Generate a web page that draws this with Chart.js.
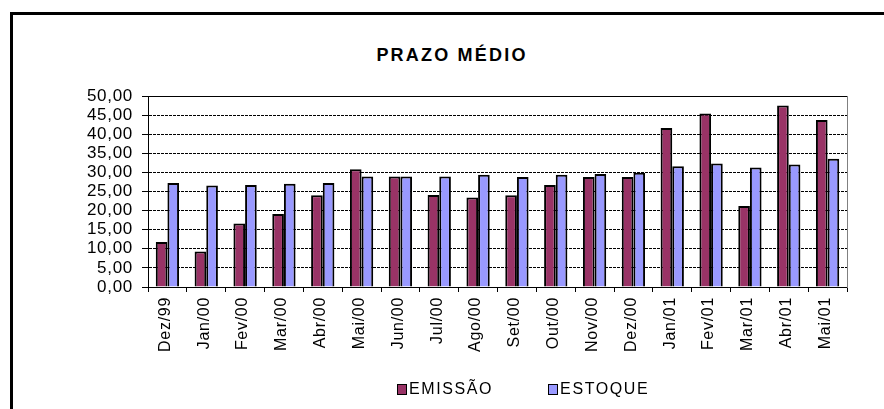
<!DOCTYPE html>
<html>
<head>
<meta charset="utf-8">
<script src="https://cdn.jsdelivr.net/npm/chart.js@4/dist/chart.umd.min.js"></script>
<style>
  html, body { margin: 0; padding: 0; background: #fff; }
  #wrap { position: relative; width: 884px; height: 409px; overflow: hidden; font-family: "Liberation Sans", Arial, sans-serif; }
  #frame { position: absolute; left: 10px; top: 12px; width: 900px; height: 420px; border-left: 3px solid #000; border-top: 3px solid #000; }
  #chart { position: absolute; left: 0; top: 0; }
  #title { position: absolute; left: 10px; width: 884px; top: 46px; text-align: center; font-weight: bold; font-size: 18px; line-height: 18px; letter-spacing: 2.2px; color: #000; }
  #legend { position: absolute; left: 397px; top: 381px; display: flex; gap: 55px; font-size: 16px; line-height: 16px; letter-spacing: 1.6px; color: #000; }
  .item { display: flex; align-items: center; }
  .box { width: 8px; height: 9px; border: 1px solid #000; margin-right: 2px; }
</style>
</head>
<body>
<div id="wrap">
  <div id="frame"></div>
  <div id="title">PRAZO MÉDIO</div>
  <canvas id="chart" width="884" height="409"></canvas>
  <div id="legend"></div>
</div>
<script>
// Dados
const categorias = ['Dez/99', 'Jan/00', 'Fev/00', 'Mar/00', 'Abr/00', 'Mai/00', 'Jun/00', 'Jul/00', 'Ago/00',
                    'Set/00', 'Out/00', 'Nov/00', 'Dez/00', 'Jan/01', 'Fev/01', 'Mar/01', 'Abr/01', 'Mai/01'];
const emissao = [11.8, 9.3, 16.6, 19.1, 24.0, 30.8, 28.9, 24.1, 23.4, 24.0, 26.7, 28.8, 28.8, 41.6, 45.4, 21.2, 47.5, 43.7];
const estoque = [27.2, 26.6, 26.7, 27.0, 27.2, 28.9, 28.9, 28.9, 29.4, 28.8, 29.4, 29.6, 29.9, 31.6, 32.3, 31.3, 32.1, 33.6];
const yMin = 0, yMax = 50, yStep = 5;

const corEmissao = '#993366';
const corEstoque = '#9999FF';

// espaçamento de letras no canvas (texto do Excel é mais largo)
const spacingPlugin = {
    id: 'spacing',
    beforeLayout(chart) { chart.ctx.letterSpacing = '0.7px'; },
    beforeDraw(chart) { chart.ctx.letterSpacing = '0.7px'; }
};

const fmt = v => v.toFixed(2).replace('.', ',');

const chart = new Chart(document.getElementById('chart').getContext('2d'), {
    type: 'bar',
    data: {
        labels: categorias,
        datasets: [
            { label: 'EMISSÃO', data: emissao, backgroundColor: corEmissao, borderColor: '#000', borderWidth: 2 },
            { label: 'ESTOQUE', data: estoque, backgroundColor: corEstoque, borderColor: '#000', borderWidth: 2 }
        ]
    },
    options: {
        responsive: false,
        animation: false,
        devicePixelRatio: 1,
        categoryPercentage: 0.6,
        barPercentage: 1,
        layout: { padding: { top: 96, right: 37, left: 0, bottom: 0 } },
        plugins: { legend: { display: false }, title: { display: false }, tooltip: { enabled: false } },
        scales: {
            x: {
                grid: { offset: true, drawOnChartArea: false, drawTicks: true, tickLength: 5, tickColor: '#000', tickBorderDash: [] },
                border: { color: '#000', width: 1 },
                ticks: {
                    color: '#000', font: { family: 'Liberation Sans', size: 16 },
                    minRotation: 90, maxRotation: 90, autoSkip: false, padding: 5, labelOffset: -2
                },
                afterFit(scale) { scale.height = 122; }
            },
            y: {
                min: yMin, max: yMax,
                grid: {
                    color: c => (c.tick && c.tick.value === yMin) ? 'rgba(0,0,0,0)' : '#000',
                    lineWidth: 1, tickLength: 6, tickColor: '#000', tickBorderDash: []
                },
                border: { color: '#000', width: 1, dash: c => (c.tick && c.tick.value === yMax) ? [] : [3, 1] },
                ticks: {
                    stepSize: yStep, color: '#000', padding: 9, autoSkip: false,
                    font: { family: 'Liberation Sans', size: 17, lineHeight: 0.9 },
                    callback: v => fmt(v)
                },
                afterFit(scale) { scale.width = 148; }
            },
            y2: {
                position: 'right', min: yMin, max: yMax,
                grid: { display: false },
                ticks: { display: false },
                border: { color: '#808080', width: 1 },
                afterFit(scale) { scale.width = 0; }
            }
        }
    },
    plugins: [spacingPlugin]
});

// Legenda em HTML a partir das séries
const legendDiv = document.getElementById('legend');
chart.data.datasets.forEach(ds => {
    legendDiv.insertAdjacentHTML('beforeend',
        `<div class="item"><span class="box" style="background:${ds.backgroundColor}"></span>${ds.label}</div>`);
});
</script>
</body>
</html>
